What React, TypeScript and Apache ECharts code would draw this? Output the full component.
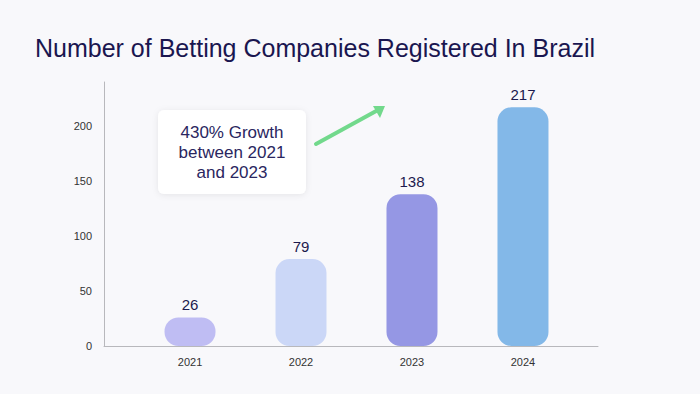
import React, { useEffect, useRef } from "react";
import * as echarts from "echarts";

const years = [2021, 2022, 2023, 2024];
const companies = [26, 79, 138, 217];
const barColors = ["#bfbdf3", "#cbd7f7", "#9597e4", "#83b8e8"];
const yTicks = [0, 50, 100, 150, 200];
const titleText = "Number of Betting Companies Registered In Brazil";
const noteLines = ["430% Growth", "between 2021", "and 2023"];

export default function App() {
  const ref = useRef<HTMLDivElement>(null);
  useEffect(() => {
    const chart = echarts.init(ref.current!, null, { renderer: "svg" });
    const font = "'Liberation Sans', Helvetica, Arial, sans-serif";
    chart.setOption({
      animation: false,
      backgroundColor: "#f8f8fb",
      textStyle: { fontFamily: font },
      grid: { left: 104, right: 102, top: 82, bottom: 48 },
      xAxis: {
        type: "value",
        min: 2020.225,
        max: 2024.676,
        splitLine: { show: false },
        axisTick: { show: false },
        axisLine: { show: true, lineStyle: { color: "#b8b8bc", width: 1 } },
        axisLabel: {
          customValues: years,
          color: "#333",
          fontSize: 11,
          margin: 10,
          formatter: (v: number) => String(Math.round(v)),
        },
      },
      yAxis: {
        type: "value",
        min: 0,
        max: 240,
        interval: 50,
        splitLine: { show: false },
        axisTick: { show: false },
        axisLine: { show: true, lineStyle: { color: "#b8b8bc", width: 1 } },
        axisLabel: {
          color: "#333",
          fontSize: 11,
          margin: 12,
          customValues: yTicks,
        },
      },
      series: [
        {
          type: "bar",
          barWidth: 51,
          data: years.map((y, i) => ({
            value: [y, companies[i]],
            itemStyle: { color: barColors[i], borderRadius: 14 },
          })),
          label: {
            show: true,
            position: "top",
            distance: 5,
            color: "#1c1a4e",
            fontSize: 15,
            formatter: (p: any) => String(p.value[1]),
          },
        },
      ],
      graphic: [
        {
          type: "text",
          left: 35,
          top: 35,
          style: {
            text: titleText,
            fill: "#1a1650",
            font: `25px ${font}`,
          },
        },
        {
          type: "rect",
          shape: { x: 158, y: 110, width: 148, height: 84, r: 6 },
          style: {
            fill: "#ffffff",
            shadowBlur: 6,
            shadowColor: "rgba(0,0,0,0.08)",
            shadowOffsetY: 1,
          },
        },
        {
          type: "text",
          x: 232,
          y: 152,
          style: {
            text: noteLines.join("\n"),
            fill: "#2a2660",
            font: `17px ${font}`,
            lineHeight: 20,
            textAlign: "center",
            textVerticalAlign: "middle",
          },
        },
        {
          type: "line",
          shape: { x1: 316, y1: 144, x2: 378, y2: 110 },
          style: { stroke: "#72d98c", lineWidth: 4, lineCap: "round" },
        },
        {
          type: "polygon",
          shape: { points: [[385, 106], [373, 106], [380, 118]] },
          style: { fill: "#72d98c" },
        },
      ],
    });
    return () => chart.dispose();
  }, []);
  return <div ref={ref} style={{ width: 700, height: 394, position: "absolute", left: 0, top: 0 }} />;
}
